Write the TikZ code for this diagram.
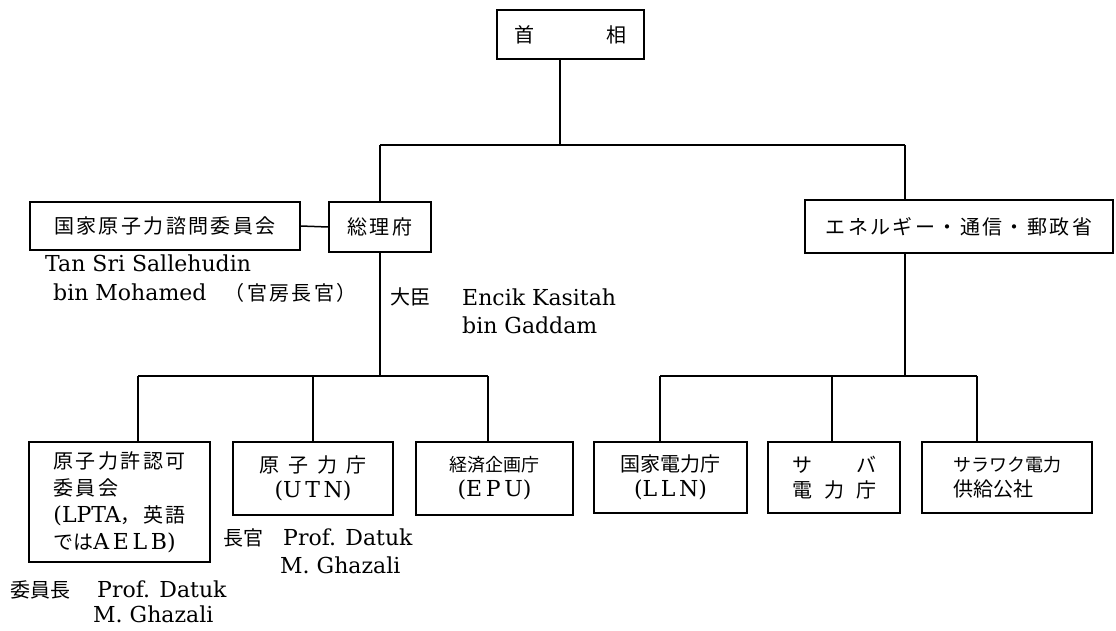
\documentclass[tikz,border=0pt]{standalone}
\usepackage{fontspec}
\setmainfont{DejaVu Serif}
\newfontfamily\cjk{Noto Sans CJK JP}
\newfontfamily\cjkw{Noto Sans CJK JP}[LetterSpace=12]
\newcommand\J[1]{{\cjk\fontsize{20}{25}\selectfont #1}}
\newcommand\JW[1]{{\cjkw\fontsize{20}{25}\selectfont #1}}
\newcommand\Js[1]{{\cjk\fontsize{18}{25}\selectfont #1}}
\tikzset{
  orgbox/.style={draw, line width=1.5pt, inner sep=0pt, align=center,
    font=\fontsize{22}{25}\selectfont},
  lbl/.style={anchor=base west, inner sep=0pt, font=\fontsize{22}{27}\selectfont},
  conn/.style={line width=1.5pt}
}
\begin{document}
\begin{tikzpicture}[x=1pt,y=-1pt]
\fill[white] (0,0) rectangle (1116,630);
\useasboundingbox (0,0) rectangle (1116,630);

% boxes
\node[orgbox, minimum width=147pt, minimum height=49pt] (top) at (570.5,34.5) {\J{首\hspace{72pt}相}};
\node[orgbox, minimum width=102pt, minimum height=50pt] (sori) at (380,227) {\JW{総理府}};
\node[orgbox, minimum width=270pt, minimum height=48pt] (kokka) at (165,226) {\JW{国家原子力諮問委員会}};
\node[orgbox, minimum width=308pt, minimum height=53pt] (energy) at (959,226.5) {\JW{エネルギー・通信・郵政省}};

\node[orgbox, minimum width=181pt, minimum height=120pt, align=left,
  font=\fontsize{22}{27}\selectfont] (b1) at (119.5,502)
  {\JW{原子力許認可}\\\JW{委員会}\\(LPTA\JW{，英語}\\\J{では}A\,E\,L\,B)};
\node[orgbox, minimum width=160pt, minimum height=73pt] (b2) at (313,478.5)
  {\J{原\hspace{9pt}子\hspace{9pt}力\hspace{9pt}庁}\\(U\,T\,N)};
\node[orgbox, minimum width=157pt, minimum height=73pt] (b3) at (494.5,478.5)
  {\Js{経済企画庁}\\(E\,P\,U)};
\node[orgbox, minimum width=153pt, minimum height=71pt] (b4) at (670.5,477.5)
  {\J{国家電力庁}\\(L\,L\,N)};
\node[orgbox, minimum width=132pt, minimum height=71pt] (b5) at (834,477.5)
  {\J{サ\hspace{44pt}バ}\\\J{電\hspace{12pt}力\hspace{12pt}庁}};
\node[orgbox, minimum width=170pt, minimum height=71pt, align=left] (b6) at (1007,477.5)
  {\Js{サラワク電力}\\\J{供給公社}};

% junctions
\coordinate (t0) at (560,145);
\coordinate (h1) at (380,145);
\coordinate (h2) at (905,145);
\coordinate (l1) at (138,376);
\coordinate (l2) at (488,376);
\coordinate (r1) at (660,376);
\coordinate (r2) at (977,376);

% connectors
\draw[conn] (top.south -| t0) -- (t0);
\draw[conn] (h1) -- (h2);
\draw[conn] (h1) -- (sori.north -| h1);
\draw[conn] (h2) -- (energy.north -| h2);
\draw[conn] (kokka.east) -- (sori.west);
\draw[conn] (sori.south) -- (sori.south |- l1);
\draw[conn] (l1) -- (l2);
\draw[conn] (l1) -- (b1.north -| l1);
\draw[conn] (b2.north) -- (b2.north |- l1);
\draw[conn] (l2) -- (b3.north -| l2);
\draw[conn] (energy.south -| h2) -- (h2 |- r1);
\draw[conn] (r1) -- (r2);
\draw[conn] (r1) -- (b4.north -| r1);
\draw[conn] (b5.north -| 832,0) -- (832,376);
\draw[conn] (r2) -- (b6.north -| r2);

% labels
\node[lbl] (tan1) at (45,271) {Tan Sri Sallehudin};
\node[lbl] (tan2) at (53,300) {bin Mohamed};
\node[lbl, anchor=base east] (tan3) at (357,300) {\JW{（官房長官）}};
\node[lbl] (dj) at (390,304) {\J{大臣}};
\node[lbl] (enc1) at (462,305) {Encik Kasitah};
\node[lbl] (enc2) at (462,333) {bin Gaddam};

\node[lbl] (iin) at (10,597) {\J{委員長}};
\node[lbl] (iin1) at (97,597) {Prof. Datuk};
\node[lbl] (iin2) at (93,622) {M. Ghazali};

\node[lbl] (chk) at (223,545) {\J{長官}};
\node[lbl] (chk1) at (283,545) {Prof. Datuk};
\node[lbl] (chk2) at (280,573) {M. Ghazali};
\end{tikzpicture}
\end{document}
